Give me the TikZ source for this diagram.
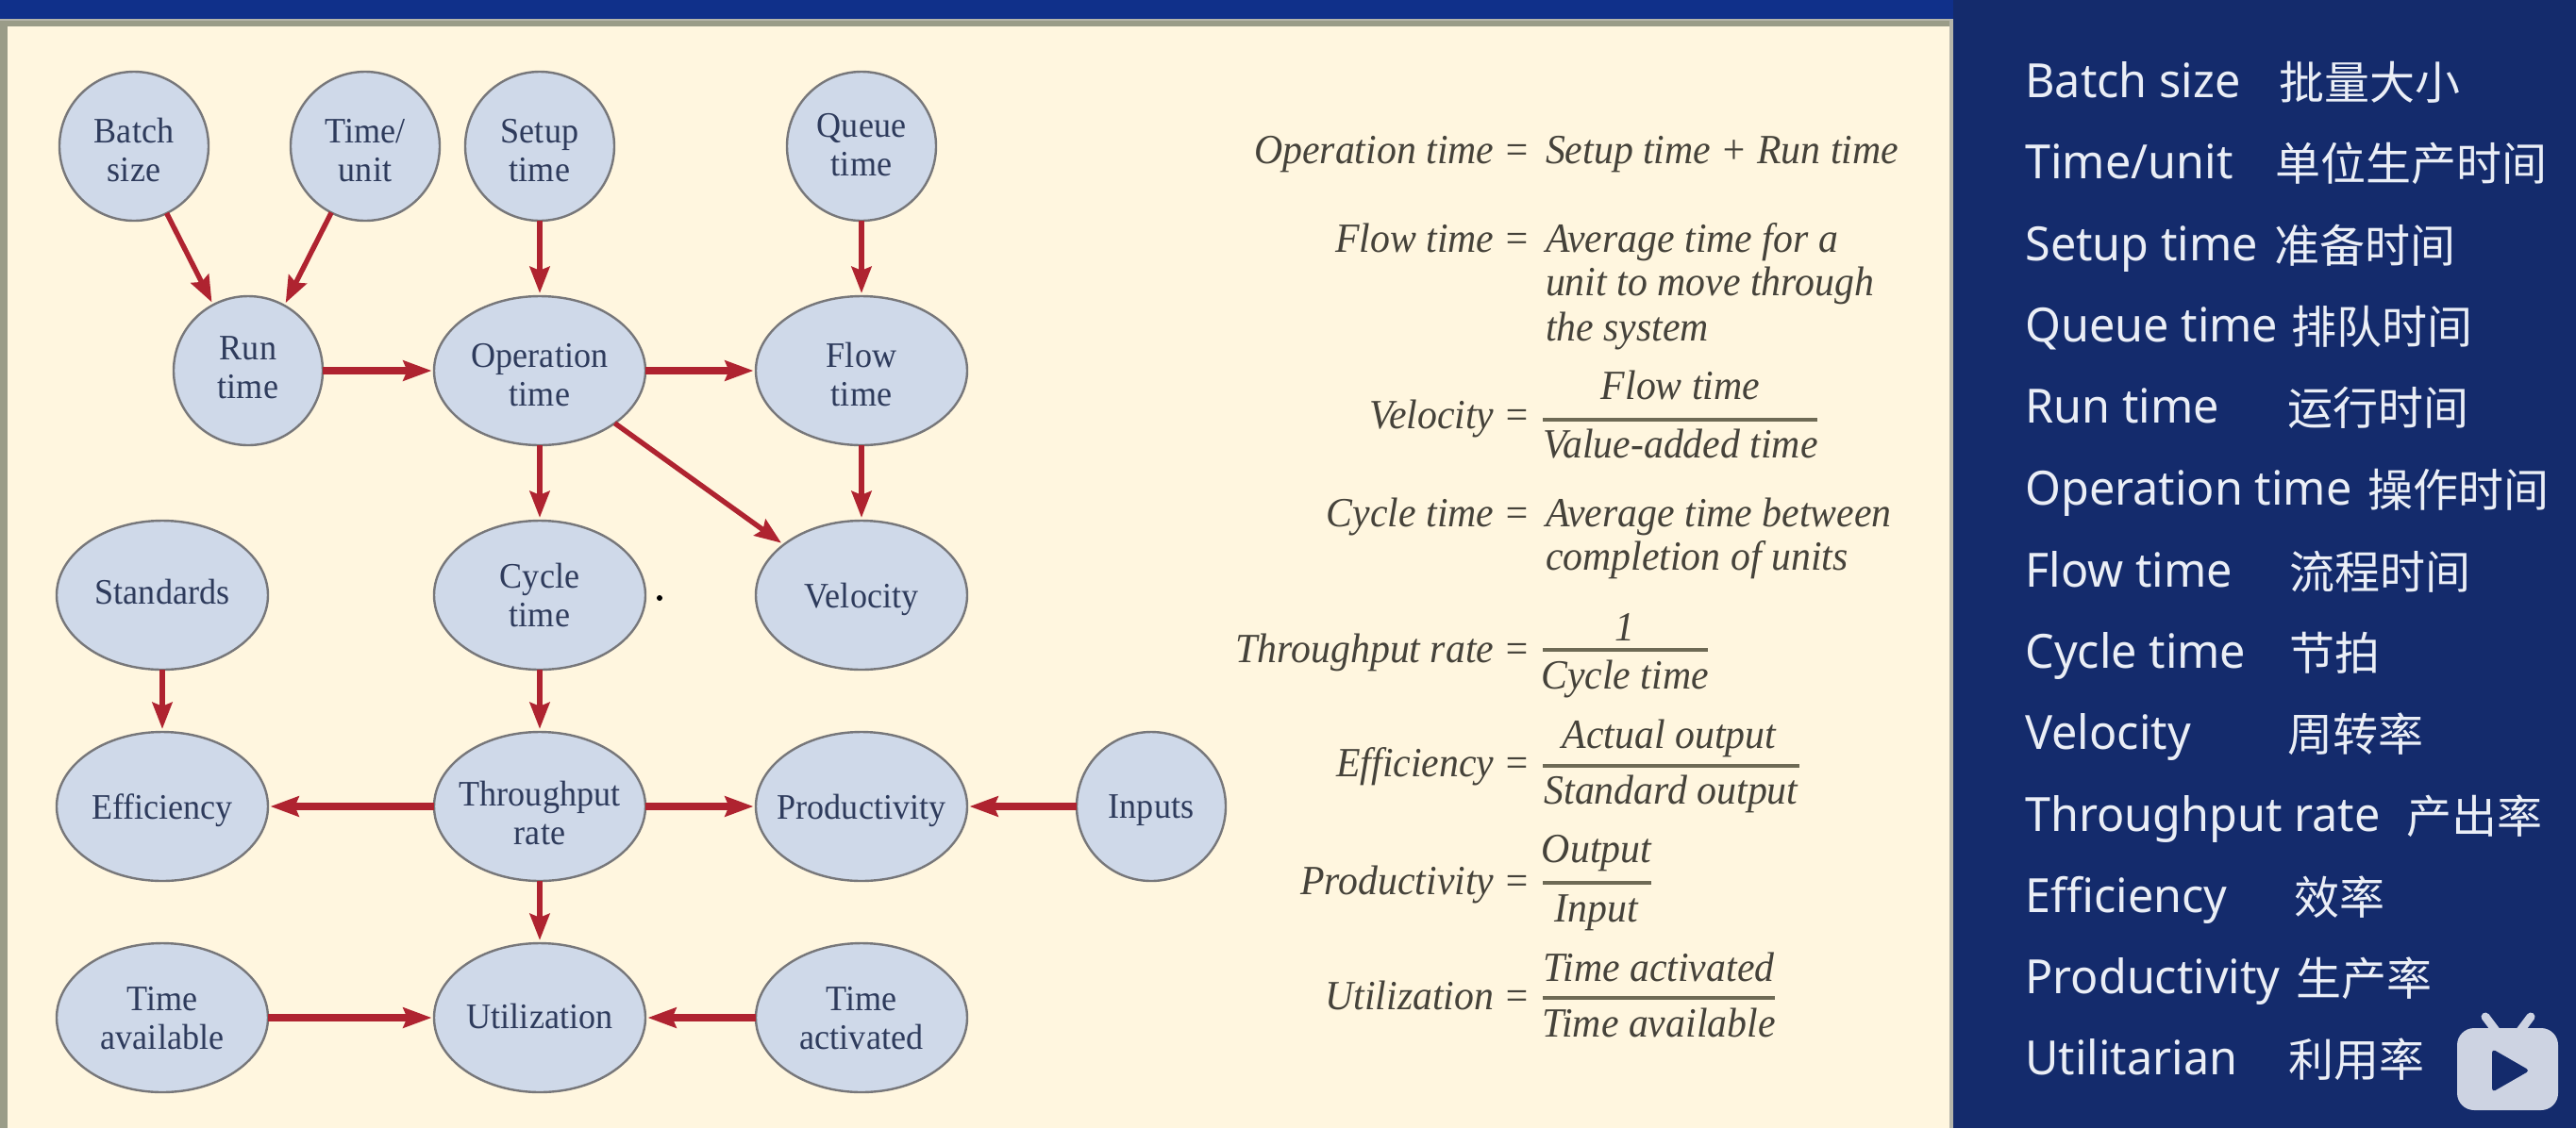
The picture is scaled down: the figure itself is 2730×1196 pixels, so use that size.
\documentclass[tikz,border=0pt]{standalone}
\usepackage{fontspec}
\usetikzlibrary{shapes.geometric,arrows.meta}
\setmainfont{Liberation Serif}[FakeStretch=0.95]
\newfontfamily\formf{Liberation Serif}[FakeStretch=0.95]
\newfontfamily\enf{Noto Sans}[FakeStretch=0.97]
\newfontfamily\cjk{Noto Sans CJK SC}
\definecolor{cream}{HTML}{FFF6DF}
\definecolor{panel}{HTML}{142B6C}
\definecolor{topbar}{HTML}{10308A}
\definecolor{frameband}{HTML}{9A9C88}
\definecolor{frameedge}{HTML}{B5B5AA}
\definecolor{bubble}{HTML}{CFD9E9}
\definecolor{bubbleline}{HTML}{77777A}
\definecolor{arrowred}{HTML}{AF2330}
\definecolor{labelink}{HTML}{2E3B5C}
\definecolor{formink}{HTML}{45423A}
\definecolor{ruleink}{HTML}{6E6A55}
\definecolor{sidetext}{HTML}{EAEEF6}
\definecolor{logo}{HTML}{CDD3E2}
\tikzset{
  x=0.5pt,y=-0.5pt,
  bub/.style={ellipse,draw=bubbleline,fill=bubble,line width=1.2pt,inner sep=-24pt,outer sep=0pt,
    minimum width=79pt,minimum height=79pt,align=center,text=labelink,text depth=0pt,
    font=\fontsize{19}{20.5}\selectfont},
  widebub/.style={bub,minimum width=112pt},
  down/.style={text height=37pt},
  downmore/.style={text height=40.5pt},
  raised/.style={text depth=3.5pt},
  raisedless/.style={text depth=1.7pt},
  thinarrow/.style={draw=arrowred,line width=2.7pt,shorten >=1.6pt,
    -{Stealth[length=14pt,width=10.5pt,inset=2pt]}},
  thickarrow/.style={draw=arrowred,line width=4pt,shorten >=1.2pt,
    -{Stealth[length=15pt,width=10.5pt,inset=2pt]}},
  form/.style={inner sep=0pt,outer sep=0pt,text=formink,yshift=-0.7pt,font=\fontsize{22}{24}\formf\itshape},
  lhs/.style={form,anchor=base east},
  rhs/.style={form,anchor=base west},
  num/.style={form,anchor=base},
  fracrule/.style={draw=ruleink,line width=1.8pt},
  en/.style={inner sep=0pt,anchor=base west,text=sidetext,font=\fontsize{25}{30}\enf},
  cn/.style={inner sep=0pt,anchor=base west,text=sidetext,font=\fontsize{24}{30}\cjk},
}
\begin{document}
\begin{tikzpicture}
\useasboundingbox (0,0) rectangle (2730,1196);
% backgrounds
\fill[panel] (0,0) rectangle (2730,1196);
\fill[topbar] (0,0) rectangle (2070,20);
\fill[frameedge] (0,20) rectangle (2070,1196);
\fill[frameband] (0,22) rectangle (2066,1196);
\fill[cream] (8,28) rectangle (2066,1196);
% bubbles
\node[bub,down]  (batch)  at (142,155) {Batch\\size};
\node[bub,down]  (unit)   at (387,155) {Time/\\unit};
\node[bub,down]  (setup)  at (572,155) {Setup\\time};
\node[bub,raisedless]  (queue)  at (913,155) {Queue\\time};
\node[bub,raised]  (run)    at (263,393) {Run\\time};
\node[widebub,down] (oper)   at (572,393) {Operation\\time};
\node[widebub,down] (flow)   at (913,393) {Flow\\time};
\node[widebub,raised] (stand)  at (172,631) {Standards};
\node[widebub] (cycle)  at (572,631) {Cycle\\time};
\node[widebub] (veloc)  at (913,631) {Velocity};
\node[widebub] (effic)  at (172,855) {Efficiency};
\node[widebub,downmore] (thru)   at (572,855) {Throughput\\rate};
\node[widebub] (prod)   at (913,855) {Productivity};
\node[bub]  (inputs) at (1220,855) {Inputs};
\node[widebub] (avail)  at (172,1079) {Time\\available};
\node[widebub,raisedless] (util)   at (572,1079) {Utilization};
\node[widebub] (activ)  at (913,1079) {Time\\activated};
\fill[black] (699,634) circle (1.5pt);
% connectors
\draw[thinarrow] (batch.-64) -- (run.118);
\draw[thinarrow] (unit.243) -- (run.61);
\draw[thinarrow] (setup) -- (oper);
\draw[thinarrow] (queue) -- (flow);
\draw[thickarrow] (run) -- (oper);
\draw[thickarrow] (oper) -- (flow);
\draw[thinarrow] (oper) -- (cycle);
\draw[thinarrow] (flow) -- (veloc);
\draw[thinarrow] (oper.-35) -- (veloc.147);
\draw[thinarrow] (stand) -- (effic);
\draw[thinarrow] (cycle) -- (thru);
\draw[thickarrow] (thru) -- (effic);
\draw[thickarrow] (thru) -- (prod);
\draw[thickarrow] (inputs) -- (prod);
\draw[thinarrow] (thru) -- (util);
\draw[thickarrow] (avail) -- (util);
\draw[thickarrow] (activ) -- (util);
% formulas
\node[lhs] (f1) at (1622,172) {Operation time =};
\node[rhs] (f1r) at (1638,172) {Setup time + Run time};
\node[lhs] (f2) at (1622,266) {Flow time =};
\node[rhs] (f2a) at (1638,266) {Average time for a};
\node[rhs] (f2b) at (1638,312) {unit to move through};
\node[rhs] (f2c) at (1638,360) {the system};
\node[lhs] (f3) at (1622,453) {Velocity =};
\node[num] (f3n) at (1781,422) {Flow time};
\draw[fracrule] (1635,445) -- (1926,445);
\node[num] (f3d) at (1781,484) {Value-added time};
\node[lhs] (f4) at (1622,557) {Cycle time =};
\node[rhs] (f4a) at (1638,557) {Average time between};
\node[rhs] (f4b) at (1638,603) {completion of units};
\node[lhs] (f5) at (1622,701) {Throughput rate =};
\node[num] (f5n) at (1722,678) {1};
\draw[fracrule] (1635,689) -- (1810,689);
\node[num] (f5d) at (1722,729) {Cycle time};
\node[lhs] (f6) at (1622,822) {Efficiency =};
\node[num] (f6n) at (1769,792) {Actual output};
\draw[fracrule] (1635,812) -- (1907,812);
\node[num] (f6d) at (1771,851) {Standard output};
\node[lhs] (f7) at (1622,947) {Productivity =};
\node[num] (f7n) at (1692,913) {Output};
\draw[fracrule] (1635,936) -- (1750,936);
\node[num] (f7d) at (1692,976) {Input};
\node[lhs] (f8) at (1622,1069) {Utilization =};
\node[num] (f8n) at (1758,1039) {Time activated};
\draw[fracrule] (1635,1058) -- (1881,1058);
\node[num] (f8d) at (1758,1098) {Time available};
% side list
\foreach \k/\ee/\cc/\cx/\yy in {
 1/{Batch size}/批量大小/2415/101,
 2/{Time/unit}/单位生产时间/2411/187,
 3/{Setup time}/准备时间/2410/274,
 4/{Queue time}/排队时间/2428/360,
 5/{Run time}/运行时间/2424/446,
 6/{Operation time}/操作时间/2509/533,
 7/{Flow time}/流程时间/2426/620,
 8/{Cycle time}/节拍/2426/706,
 9/{Velocity}/周转率/2424/792,
 10/{Throughput rate}/产出率/2550/879,
 11/{Efficiency}/效率/2431/965,
 12/{Productivity}/生产率/2433/1051,
 13/{Utilitarian}/利用率/2425/1137}{
  \node[en] (en\k) at (2146,\yy+2) {\ee};
  \node[cn] (cn\k) at (\cx,\yy+4) {\cc};
}
% logo
\fill[logo,rounded corners=9pt] (2604,1090) rectangle (2711,1177);
\draw[logo,line width=4.5pt,line cap=round] (2670,1094) -- (2682,1078);
\draw[logo,line width=4.5pt,line cap=round] (2646,1094) -- (2634,1078);
\fill[panel,rounded corners=2pt] (2641,1112) -- (2681,1135) -- (2641,1158) -- cycle;
\end{tikzpicture}
\end{document}
